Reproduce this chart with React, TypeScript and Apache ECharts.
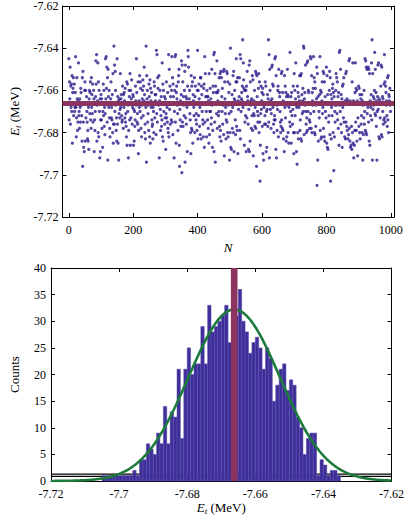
import { useEffect, useRef } from "react";
import * as echarts from "echarts";

// ---------- data ----------
// Base energy (MeV); sample energies are stored in meV above this base
const ENERGY_BASE = -7.72;

// Sample energies for N = 0..999, meV above ENERGY_BASE
const energiesBlockA = [
  75, 46, 64, 56, 71, 44, 62, 52, 63, 50, 67, 35, 59, 61, 66, 48, 54, 63, 50, 52,
  59, 76, 52, 38, 47, 66, 56, 41, 45, 55, 73, 48, 50, 42, 56, 52, 45, 61, 59, 53,
  48, 36, 66, 24, 69, 45, 33, 54, 31, 60, 64, 36, 60, 47, 54, 57, 50, 45, 37, 41,
  36, 52, 32, 56, 60, 49, 59, 64, 46, 42, 66, 52, 58, 49, 63, 45, 54, 60, 56, 31,
  46, 41, 50, 57, 74, 63, 77, 36, 53, 55, 73, 40, 64, 38, 60, 50, 28, 56, 31, 46,
  58, 46, 56, 42, 54, 33, 50, 63, 48, 60, 43, 52, 39, 49, 75, 56, 76, 61, 71, 45,
  66, 27, 70, 57, 52, 60, 47, 42, 38, 54, 56, 64, 47, 52, 46, 58, 40, 68, 35, 44,
  81, 44, 72, 50, 69, 60, 53, 41, 47, 36,
];
const energiesBlockB = [
  75, 44, 57, 35, 55, 27, 49, 56, 47, 51, 68, 52, 56, 58, 48, 45, 46, 62, 54, 42,
  58, 52, 59, 55, 47, 61, 45, 49, 43, 38, 64, 34, 63, 50, 53, 28, 41, 60, 57, 46,
  68, 34, 60, 47, 56, 65, 54, 44, 52, 58, 57, 34, 51, 36, 50, 43, 46, 62, 55, 53,
  75, 59, 45, 49, 44, 64, 30, 41, 55, 52, 67, 50, 64, 61, 42, 47, 38, 53, 56, 60,
  65, 48, 62, 55, 71, 58, 40, 44, 37, 52, 81, 26, 67, 56, 60, 45, 49, 53, 41, 63,
  57, 38, 65, 35, 61, 55, 52, 59, 46, 43, 44, 37, 52, 50, 40, 64, 62, 47, 58, 55,
  58, 39, 79, 49, 77, 45, 66, 61, 54, 53, 67, 28, 55, 60, 51, 41, 48, 57, 43, 46,
  73, 38, 63, 36, 60, 50, 54, 57, 44, 47, 56, 32, 49, 64, 47, 52, 45, 59, 42, 40,
  77, 38, 70, 51, 62, 44, 57, 54, 46, 60,
];
const energiesBlockC = [
  76, 45, 66, 39, 63, 57, 54, 28, 50, 60, 76, 45, 77, 35, 59, 62, 56, 53, 49, 41,
  64, 67, 70, 34, 24, 51, 46, 55, 43, 58, 74, 21, 72, 45, 64, 43, 57, 53, 48, 60,
  69, 26, 72, 47, 57, 44, 56, 52, 31, 62, 79, 76, 71, 54, 56, 60, 49, 46, 40, 30,
  67, 42, 62, 41, 64, 35, 58, 55, 52, 48, 66, 40, 57, 62, 54, 46, 49, 44, 41, 60,
  79, 37, 60, 48, 63, 56, 43, 52, 39, 66, 66, 37, 62, 58, 50, 54, 46, 44, 38, 61,
  63, 33, 76, 45, 68, 57, 54, 50, 38, 60, 57, 46, 57, 42, 55, 35, 68, 39, 50, 61,
  50, 56, 44, 47, 70, 53, 33, 41, 62, 59, 77, 31, 78, 45, 68, 26, 62, 54, 59, 49,
  74, 42, 59, 55, 60, 48, 50, 66, 43, 38, 68, 41, 69, 36, 66, 57, 50, 61, 44, 53,
  69, 39, 70, 29, 64, 56, 49, 52, 37, 46,
];
const energiesBlockD = [
  69, 45, 68, 40, 64, 38, 53, 59, 49, 27, 63, 40, 80, 33, 50, 32, 54, 58, 42, 52,
  67, 40, 69, 31, 56, 60, 55, 46, 39, 64, 75, 43, 64, 41, 66, 30, 55, 51, 54, 57,
  66, 41, 77, 37, 75, 50, 56, 59, 55, 62, 84, 52, 73, 65, 61, 34, 60, 45, 54, 48,
  60, 31, 62, 47, 69, 57, 55, 44, 32, 51, 72, 31, 74, 36, 64, 53, 55, 42, 56, 48,
  67, 41, 65, 29, 49, 55, 48, 60, 43, 52, 69, 42, 68, 24, 67, 57, 50, 45, 48, 61,
  68, 40, 64, 45, 17, 34, 49, 62, 51, 55, 59, 43, 61, 30, 58, 27, 52, 54, 44, 48,
  64, 44, 62, 31, 50, 33, 51, 58, 43, 56, 84, 45, 77, 28, 70, 60, 51, 55, 42, 49,
  71, 56, 72, 63, 52, 62, 44, 40, 46, 48, 75, 46, 76, 32, 67, 28, 53, 41, 51, 60,
  62, 38, 70, 54, 59, 57, 50, 45, 40, 43,
];
const energiesBlockE = [
  68, 46, 69, 42, 59, 41, 55, 37, 54, 31, 67, 52, 62, 47, 59, 36, 57, 38, 53, 70,
  58, 40, 57, 35, 52, 54, 45, 78, 43, 50, 57, 35, 59, 48, 54, 44, 51, 62, 40, 30,
  68, 40, 60, 48, 56, 73, 53, 31, 52, 25, 62, 40, 59, 37, 57, 52, 55, 67, 41, 46,
  67, 37, 68, 36, 58, 49, 55, 61, 50, 81, 80, 39, 56, 59, 53, 72, 50, 44, 40, 47,
  73, 41, 74, 50, 60, 59, 54, 46, 42, 45, 76, 49, 75, 42, 67, 40, 59, 55, 53, 61,
  76, 50, 66, 40, 64, 39, 61, 43, 53, 56, 71, 15, 68, 27, 57, 36, 54, 50, 47, 58,
  76, 41, 60, 37, 59, 38, 55, 64, 49, 52, 69, 42, 68, 38, 64, 36, 57, 50, 54, 47,
  71, 35, 67, 33, 58, 32, 54, 45, 48, 60, 69, 39, 66, 17, 58, 37, 52, 56, 48, 61,
  63, 40, 59, 22, 57, 38, 50, 45, 53, 60,
];
const energiesBlockF = [
  68, 53, 66, 49, 64, 46, 57, 42, 59, 34, 78, 53, 79, 50, 70, 44, 58, 40, 56, 33,
  62, 52, 63, 47, 66, 45, 54, 38, 55, 37, 68, 45, 69, 43, 56, 41, 55, 37, 54, 39,
  74, 42, 75, 36, 55, 33, 54, 34, 43, 32, 64, 40, 73, 35, 55, 28, 54, 34, 41, 59,
  73, 45, 61, 41, 60, 36, 55, 29, 47, 54, 62, 43, 61, 40, 58, 37, 54, 56, 44, 48,
  58, 40, 55, 27, 53, 39, 47, 60, 44, 50, 75, 41, 74, 40, 71, 39, 70, 49, 54, 52,
  71, 45, 70, 36, 68, 34, 55, 48, 52, 58, 73, 46, 84, 27, 68, 51, 57, 53, 56, 60,
  78, 49, 70, 48, 59, 43, 55, 27, 50, 57, 72, 51, 73, 38, 56, 37, 55, 47, 54, 62,
  72, 39, 71, 38, 57, 50, 56, 44, 46, 63, 77, 47, 64, 45, 62, 59, 53, 55, 48, 43,
  66, 46, 67, 40, 58, 57, 55, 61, 53, 50,
];

// Histogram: 100 bins of 0.001 MeV starting at -7.72 (counts)
const HIST_START = -7.72;
const HIST_BIN_WIDTH = 0.001;
const histCounts = [
  0, 0, 0, 0, 0, 0, 0, 0, 0, 0, 0, 0, 0, 0, 0,
  1, 1, 1, 1, 1, 1, 1, 1, 1,
  2, 1, 4, 4, 7, 6, 5, 9, 7, 14, 7, 13, 12, 21, 8, 21,
  25, 20, 22, 22, 29, 22, 33, 28, 29, 30, 31, 33, 26, 30, 31, 36,
  30, 28, 24, 26, 27, 25, 21, 25, 23, 15, 18, 21, 22, 17, 19, 18,
  12, 10, 5, 8, 9, 9, 1, 4, 3, 1, 2, 2, 1,
  0, 0, 0, 0, 0, 0, 0, 0, 0, 0, 0, 0, 0, 0, 0,
];

// Mean energy and Gaussian fit parameters
const MEAN_ENERGY = -7.6662;
const FIT_SIGMA = 0.0134;
const FIT_PEAK = 32.2;
// Flat black reference band (two lines), in counts
const bandLevels = [0.85, 1.3];

// Axis ticks
const sampleTicks = [0, 200, 400, 600, 800, 1000];
const energyTicks = [-7.72, -7.7, -7.68, -7.66, -7.64, -7.62];
const countTicks = [0, 5, 10, 15, 20, 25, 30, 35, 40];

// ---------- styling ----------
const FONT = "'Liberation Serif', 'DejaVu Serif', serif";
const POINT_COLOR = "#2a1d8c";
const BAR_COLOR = "#3e2f98";
const MAROON = "#8d3360";
const GREEN = "#1c7a3b";

const fmtEnergy = (v: number) => String(parseFloat(Number(v).toFixed(2)));

const ENERGY_NAME = "{i|E}{s|t} (MeV)";
const energyNameStyle = {
  fontFamily: FONT,
  fontSize: 13,
  color: "#000",
  rich: {
    i: { fontFamily: FONT, fontStyle: "italic", fontSize: 13, color: "#000", lineHeight: 16 },
    s: { fontFamily: FONT, fontStyle: "italic", fontSize: 9, color: "#000", verticalAlign: "bottom", lineHeight: 9 },
  },
};

function mkAxis(opts: any) {
  const { ticks, labels, fmt, margin, ...rest } = opts;
  return {
    type: "value",
    axisLine: { show: true, onZero: false, lineStyle: { color: "#000", width: 1 } },
    axisTick: { show: true, inside: true, length: 4, customValues: ticks, lineStyle: { color: "#000", width: 1 } },
    axisLabel: {
      show: !!labels,
      customValues: ticks,
      formatter: fmt,
      margin: margin ?? 6,
      color: "#000",
      fontFamily: FONT,
      fontSize: 12,
    },
    splitLine: { show: false },
    ...rest,
  };
}

export default function App() {
  const ref = useRef<HTMLDivElement>(null);

  useEffect(() => {
    if (!ref.current) return;
    const chart = echarts.init(ref.current, undefined, { renderer: "svg" });

    const energies = [
      ...energiesBlockA,
      ...energiesBlockB,
      ...energiesBlockC,
      ...energiesBlockD,
      ...energiesBlockE,
      ...energiesBlockF,
    ];
    const scatterData = energies.map((v, i) => [i, ENERGY_BASE + v / 1000]);

    const barData = histCounts
      .map((c, k) => [HIST_START + k * HIST_BIN_WIDTH, HIST_START + (k + 1) * HIST_BIN_WIDTH, c])
      .filter((d) => d[2] > 0);

    const fitData: number[][] = [];
    for (let i = 0; i <= 400; i++) {
      const x = -7.72 + (i * 0.1) / 400;
      const d = x - MEAN_ENERGY;
      fitData.push([x, FIT_PEAK * Math.exp(-(d * d) / (2 * FIT_SIGMA * FIT_SIGMA))]);
    }

    const option: any = {
      animation: false,
      backgroundColor: "#fff",
      grid: [
        { left: 50, top: 4, width: 344, height: 213 },
        { left: 50, top: 268, width: 344, height: 213 },
      ],
      xAxis: [
        mkAxis({
          gridIndex: 0, position: "bottom", min: -20, max: 1010,
          ticks: sampleTicks, labels: true, fmt: (v: number) => String(v), margin: 7,
          name: "N", nameLocation: "middle", nameGap: 24,
          nameTextStyle: { fontFamily: FONT, fontStyle: "italic", fontSize: 13, color: "#000" },
        }),
        mkAxis({ gridIndex: 0, position: "top", min: -20, max: 1010, ticks: sampleTicks }),
        mkAxis({
          gridIndex: 1, position: "bottom", min: -7.72, max: -7.62,
          ticks: energyTicks, labels: true, fmt: fmtEnergy, margin: 7,
          name: ENERGY_NAME, nameLocation: "middle", nameGap: 12,
          nameTextStyle: energyNameStyle,
        }),
        mkAxis({ gridIndex: 1, position: "top", min: -7.72, max: -7.62, ticks: energyTicks }),
      ],
      yAxis: [
        mkAxis({
          gridIndex: 0, position: "left", min: -7.72, max: -7.62,
          ticks: energyTicks, labels: true, fmt: fmtEnergy, margin: 4,
          name: ENERGY_NAME, nameLocation: "middle", nameGap: 38,
          nameTextStyle: energyNameStyle,
        }),
        mkAxis({ gridIndex: 0, position: "right", min: -7.72, max: -7.62, ticks: energyTicks }),
        mkAxis({
          gridIndex: 1, position: "left", min: 0, max: 40,
          ticks: countTicks, labels: true, fmt: (v: number) => String(v), margin: 5,
          name: "Counts", nameLocation: "middle", nameGap: 30,
          nameTextStyle: { fontFamily: FONT, fontSize: 13, color: "#000" },
        }),
        mkAxis({ gridIndex: 1, position: "right", min: 0, max: 40, ticks: countTicks }),
      ],
      series: [
        {
          type: "scatter",
          xAxisIndex: 0,
          yAxisIndex: 0,
          data: scatterData,
          symbol: "circle",
          symbolSize: 3.2,
          itemStyle: { color: POINT_COLOR },
          silent: true,
          z: 2,
        },
        {
          type: "line",
          xAxisIndex: 0,
          yAxisIndex: 0,
          data: [[-20, MEAN_ENERGY], [1010, MEAN_ENERGY]],
          showSymbol: false,
          lineStyle: { color: MAROON, width: 5 },
          silent: true,
          z: 4,
        },
        ...bandLevels.map((lvl) => ({
          type: "line",
          xAxisIndex: 2,
          yAxisIndex: 2,
          data: [[-7.72, lvl], [-7.62, lvl]],
          showSymbol: false,
          lineStyle: { color: "#000", width: 1.3 },
          silent: true,
          z: 1,
        })),
        {
          type: "custom",
          xAxisIndex: 2,
          yAxisIndex: 2,
          data: barData,
          encode: { x: [0, 1], y: 2 },
          silent: true,
          z: 2,
          renderItem: (_params: any, api: any) => {
            const p0 = api.coord([api.value(0), api.value(2)]);
            const p1 = api.coord([api.value(1), 0]);
            return {
              type: "rect",
              shape: { x: p0[0], y: p0[1], width: p1[0] - p0[0], height: p1[1] - p0[1] },
              style: { fill: BAR_COLOR, stroke: "#5b4fb2", lineWidth: 0.5 },
            };
          },
        },
        {
          type: "line",
          xAxisIndex: 2,
          yAxisIndex: 2,
          data: fitData,
          showSymbol: false,
          lineStyle: { color: GREEN, width: 2.6 },
          silent: true,
          z: 3,
        },
        {
          type: "line",
          xAxisIndex: 2,
          yAxisIndex: 2,
          data: [[MEAN_ENERGY, 0], [MEAN_ENERGY, 40]],
          showSymbol: false,
          lineStyle: { color: MAROON, width: 6.6 },
          silent: true,
          z: 4,
        },
      ],
    };

    chart.setOption(option);
    return () => chart.dispose();
  }, []);

  return (
    <div
      ref={ref}
      style={{ position: "absolute", left: 0, top: 0, width: 407, height: 518, background: "#fff" }}
    />
  );
}
